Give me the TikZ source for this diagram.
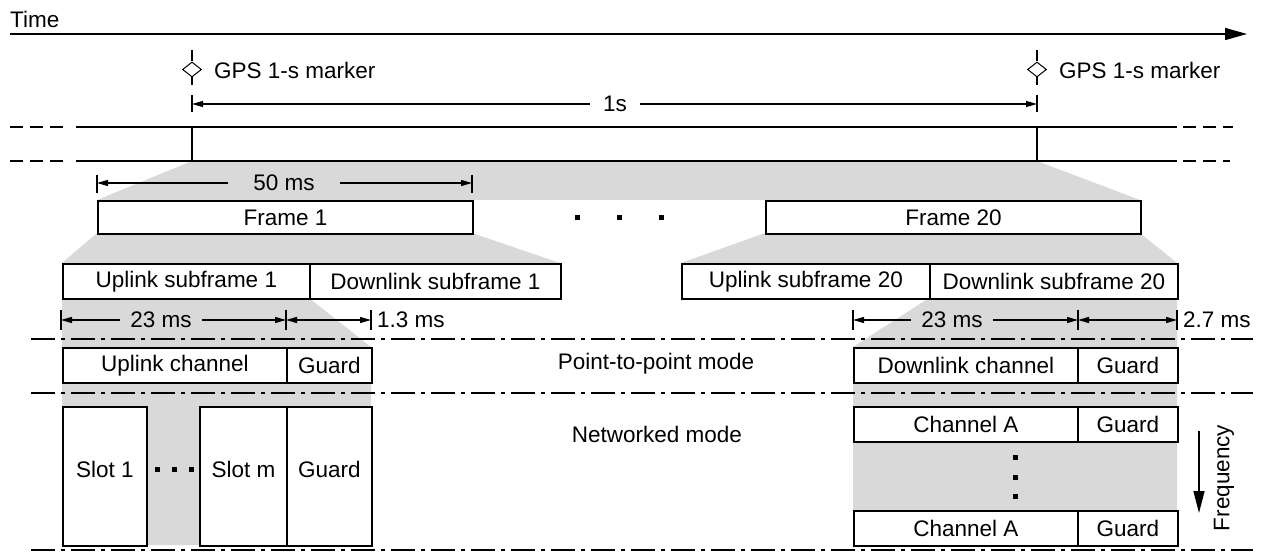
\documentclass[tikz,border=0pt]{standalone}
\usepackage{fontspec}
\setmainfont{Liberation Sans}
\usetikzlibrary{arrows.meta,shapes.geometric}
\definecolor{zoomgray}{RGB}{217,217,217}
\begin{document}
\begin{tikzpicture}[x=1pt,y=-1pt, font=\fontsize{22.5}{26}\selectfont,
  box/.style={draw, line width=1.8pt, fill=white, inner sep=0pt, anchor=north west},
  lbl/.style={inner sep=0pt},
  dimlbl/.style={inner ysep=0pt},
  dimline/.style={line width=1.1pt},
  dimtip/.style={-{Triangle[length=11pt,width=6pt]}},
  dimboth/.style={{Triangle[length=11pt,width=6pt]}-{Triangle[length=11pt,width=6pt]}},
  ticks/.style={line width=1.1pt},
  tline/.style={line width=2.4pt},
  tdash/.style={line width=2.4pt, dash pattern=on 13pt off 7pt},
  ddot/.style={line width=1.8pt, dash pattern=on 24pt off 6pt on 4pt off 6pt},
  dotm/.style={fill=black, minimum size=5pt, inner sep=0pt},
  slottext/.style={text height=16pt, text depth=14pt},
  zoomfill/.style={fill=zoomgray, draw=none},
]
\useasboundingbox (0,0) rectangle (1261,553);
% shaded zoom regions
\path[zoomfill] (192,161) -- (1037,161) -- (1140,200) -- (97,200) -- cycle;
\path[zoomfill] (97,233) -- (472,233) -- (560,263) -- (62,263) -- cycle;
\path[zoomfill] (765,233) -- (1140,233) -- (1177,263) -- (681,263) -- cycle;
\path[zoomfill] (62,298) -- (309,298) -- (371,347) -- (371,545) -- (62,545) -- cycle;
\path[zoomfill] (929,298) -- (1177,298) -- (1177,545) -- (853,545) -- (853,347) -- cycle;

% time axis
\node[lbl, anchor=west] (time) at (10,19) {Time};
\coordinate (t0) at (10,34);
\coordinate (t1) at (1247,34);
\draw[line width=1.5pt, -{Triangle[length=22pt,width=12pt]}] (t0) -- (t1);

% GPS markers
\node[draw, diamond, line width=1pt, minimum width=19pt, minimum height=15pt, inner sep=0pt] (d1) at (192,69.5) {};
\node[draw, diamond, line width=1pt, minimum width=19pt, minimum height=15pt, inner sep=0pt] (d2) at (1037,69.5) {};
\coordinate (d1top) at (192,50); \coordinate (d1bot) at (192,85);
\coordinate (d2top) at (1037,50); \coordinate (d2bot) at (1037,85);
\draw[ticks] (d1top) -- (d1.north); \draw[ticks] (d1.south) -- (d1bot);
\draw[ticks] (d2top) -- (d2.north); \draw[ticks] (d2.south) -- (d2bot);
\node[lbl, anchor=west] (g1) at (214,70) {GPS 1-s marker};
\node[lbl, anchor=west] (g2) at (1059,70) {GPS 1-s marker};

% 1 s dimension
\coordinate (s1a) at (192,95); \coordinate (s1b) at (192,112);
\coordinate (s2a) at (1037,95); \coordinate (s2b) at (1037,112);
\draw[ticks] (s1a) -- (s1b); \draw[ticks] (s2a) -- (s2b);
\coordinate (s1m) at (192,104); \coordinate (s2m) at (1037,104);
\node[dimlbl, inner xsep=13pt] (one) at (615,104) {1s};
\draw[dimline, dimtip] (one.west) -- (s1m);
\draw[dimline, dimtip] (one.east) -- (s2m);

% double timeline
\coordinate (la0) at (10,127); \coordinate (la1) at (70,127); \coordinate (la2) at (76,127);
\coordinate (la3) at (1177,127); \coordinate (la4) at (1183,127); \coordinate (la5) at (1233,127);
\coordinate (lb0) at (10,161); \coordinate (lb1) at (70,161); \coordinate (lb2) at (76,161);
\coordinate (lb3) at (1177,161); \coordinate (lb4) at (1183,161); \coordinate (lb5) at (1230,161);
\draw[tdash] (la0) -- (la1); \draw[tline] (la2) -- (la3); \draw[tdash] (la4) -- (la5);
\draw[tdash] (lb0) -- (lb1); \draw[tline] (lb2) -- (lb3); \draw[tdash] (lb4) -- (lb5);
\coordinate (v1a) at (192,127); \coordinate (v1b) at (192,161);
\coordinate (v2a) at (1037,127); \coordinate (v2b) at (1037,161);
\draw[line width=1.5pt] (v1a) -- (v1b);
\draw[line width=1.5pt] (v2a) -- (v2b);

% 50 ms dimension
\coordinate (f1ta) at (97,175); \coordinate (f1tb) at (97,193);
\coordinate (f2ta) at (472,175); \coordinate (f2tb) at (472,193);
\draw[ticks] (f1ta) -- (f1tb); \draw[ticks] (f2ta) -- (f2tb);
\coordinate (f1m) at (97,183); \coordinate (f2m) at (472,183);
\node[dimlbl, inner xsep=25pt] (fifty) at (284,183) {50 ms};
\draw[dimline, dimtip] (fifty.west) -- (f1m);
\draw[dimline, dimtip] (fifty.east) -- (f2m);

% frames
\node[box, minimum width=375pt, minimum height=33pt] (fr1) at (97,200) {Frame 1};
\node[box, minimum width=375pt, minimum height=33pt] (fr20) at (765,200) {Frame 20};
\node[dotm] (fd1) at (577,218) {};
\node[dotm] (fd2) at (619,218) {};
\node[dotm] (fd3) at (661,218) {};

% subframes
\node[box, minimum width=247pt, minimum height=35pt] (us1) at (62,263) {Uplink subframe 1};
\node[box, minimum width=251pt, minimum height=35pt] (ds1) at (309,263) {Downlink subframe 1};
\node[box, minimum width=248pt, minimum height=35pt] (us20) at (681,263) {Uplink subframe 20};
\node[box, minimum width=248pt, minimum height=35pt] (ds20) at (929,263) {Downlink subframe 20};

% 23 ms / 1.3 ms
\coordinate (ka1) at (61,310); \coordinate (kb1) at (61,330);
\coordinate (ka2) at (286,310); \coordinate (kb2) at (286,330);
\coordinate (ka3) at (371,310); \coordinate (kb3) at (371,330);
\draw[ticks] (ka1) -- (kb1); \draw[ticks] (ka2) -- (kb2); \draw[ticks] (ka3) -- (kb3);
\coordinate (km1) at (61,320); \coordinate (km2) at (286,320); \coordinate (km3) at (371,320);
\node[dimlbl, inner xsep=10pt] (tw1) at (161,320) {23 ms};
\draw[dimline, dimtip] (tw1.west) -- (km1);
\draw[dimline, dimtip] (tw1.east) -- (km2);
\draw[dimline, dimboth] (km2) -- (km3);
\node[lbl, anchor=west] (onethree) at (377,320) {1.3 ms};

% 23 ms / 2.7 ms
\coordinate (ra1) at (853,310); \coordinate (rb1) at (853,330);
\coordinate (ra2) at (1078,310); \coordinate (rb2) at (1078,330);
\coordinate (ra3) at (1177,310); \coordinate (rb3) at (1177,330);
\draw[ticks] (ra1) -- (rb1); \draw[ticks] (ra2) -- (rb2); \draw[ticks] (ra3) -- (rb3);
\coordinate (rm1) at (853,320); \coordinate (rm2) at (1078,320); \coordinate (rm3) at (1177,320);
\node[dimlbl, inner xsep=10pt] (tw2) at (952,320) {23 ms};
\draw[dimline, dimtip] (tw2.west) -- (rm1);
\draw[dimline, dimtip] (tw2.east) -- (rm2);
\draw[dimline, dimboth] (rm2) -- (rm3);
\node[lbl, anchor=west] (twoseven) at (1183,320) {2.7 ms};

% dash-dot separators
\coordinate (p0) at (31,339); \coordinate (p1) at (1253,339);
\coordinate (q0) at (31,393); \coordinate (q1) at (1253,393);
\coordinate (r0) at (31,550); \coordinate (r1) at (1253,550);
\draw[ddot] (p0) -- (p1);
\draw[ddot] (q0) -- (q1);
\draw[ddot] (r0) -- (r1);

% point-to-point mode
\node[box, minimum width=224pt, minimum height=35pt] (uc) at (62,347) {Uplink channel};
\node[box, minimum width=85pt, minimum height=35pt] (ug) at (286,347) {Guard};
\node[box, minimum width=224pt, minimum height=35pt] (dc) at (853,347) {Downlink channel};
\node[box, minimum width=100pt, minimum height=35pt] (dg) at (1077,347) {Guard};
\node[lbl] (ptp) at (656,364) {Point-to-point mode};

% networked mode
\node[box, slottext, minimum width=84pt, minimum height=139pt] (sl1) at (62,406) {Slot 1};
\node[box, slottext, minimum width=87pt, minimum height=139pt] (slm) at (199,406) {Slot m};
\node[box, slottext, minimum width=85pt, minimum height=139pt] (slg) at (286,406) {Guard};
\node[dotm] (sd1) at (157,469) {};
\node[dotm] (sd2) at (174,469) {};
\node[dotm] (sd3) at (191,469) {};
\node[lbl] (net) at (657,434) {Networked mode};

\node[box, minimum width=224pt, minimum height=35pt] (ca1) at (853,406) {Channel A};
\node[box, minimum width=100pt, minimum height=35pt] (cg1) at (1077,406) {Guard};
\node[box, minimum width=224pt, minimum height=35pt] (ca2) at (853,510) {Channel A};
\node[box, minimum width=100pt, minimum height=35pt] (cg2) at (1077,510) {Guard};
\node[dotm] (vd1) at (1015,457) {};
\node[dotm] (vd2) at (1015,477) {};
\node[dotm] (vd3) at (1015,496) {};

% frequency
\coordinate (fq0) at (1199,431); \coordinate (fq1) at (1199,513);
\draw[line width=1.5pt, -{Triangle[length=22pt,width=11pt]}] (fq0) -- (fq1);
\node[lbl, rotate=90] (freq) at (1224,478) {Frequency};
\end{tikzpicture}
\end{document}
